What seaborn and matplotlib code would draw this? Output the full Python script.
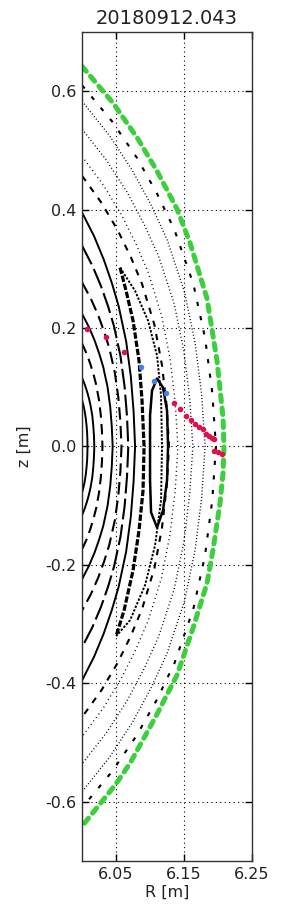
import matplotlib
matplotlib.use("Agg")
import matplotlib.pyplot as plt
import seaborn as sns
import numpy as np
import pandas as pd

# ---------------- data ----------------
title = "20180912.043"

# outer boundary (green), full curve top -> bottom
green_R = [6.000, 6.0456, 6.0824, 6.1103, 6.1397, 6.1588, 6.1838, 6.1985, 6.2074, 6.2088,
           6.2074, 6.2029, 6.1926, 6.1838, 6.1632, 6.1397, 6.1103, 6.0706, 6.0485, 6.0015]
green_z = [0.642, 0.580, 0.519, 0.465, 0.401, 0.344, 0.250, 0.145, 0.049, 0.0,
           -0.045, -0.096, -0.175, -0.231, -0.307, -0.386, -0.452, -0.535, -0.572, -0.639]

# nested surfaces: upper half (left edge -> midplane), lower half mirrored
s1_R = [6.000, 6.0441, 6.0804, 6.1103, 6.1359, 6.1637, 6.1810, 6.1915, 6.197]
s1_z = [0.610, 0.549, 0.488, 0.427, 0.366, 0.2745, 0.183, 0.0915, 0.0]
s2_R = [6.000, 6.0405, 6.0738, 6.1014, 6.1249, 6.1504, 6.1663, 6.1759, 6.181]
s2_z = [0.583, 0.5247, 0.4664, 0.4081, 0.3498, 0.2624, 0.1749, 0.0875, 0.0]
s3_R = [6.000, 6.0365, 6.0665, 6.0913, 6.1125, 6.1355, 6.1498, 6.1584, 6.163]
s3_z = [0.536, 0.4824, 0.4288, 0.3752, 0.3216, 0.2412, 0.1608, 0.0804, 0.0]
s4_R = [6.000, 6.0316, 6.0575, 6.0790, 6.0973, 6.1172, 6.1296, 6.1371, 6.141]
s4_z = [0.490, 0.441, 0.392, 0.343, 0.294, 0.2205, 0.147, 0.0735, 0.0]
s5_R = [6.000, 6.0287, 6.0522, 6.0717, 6.0883, 6.1064, 6.1176, 6.1244, 6.128]
s5_z = [0.457, 0.4113, 0.3656, 0.3199, 0.2742, 0.2057, 0.1371, 0.0686, 0.0]
s6_R = [6.000, 6.0175, 6.0318, 6.0437, 6.0538, 6.0648, 6.0717, 6.0758, 6.078]
s6_z = [0.395, 0.3555, 0.316, 0.2765, 0.237, 0.1778, 0.1185, 0.0593, 0.0]
s7_R = [6.000, 6.0152, 6.0277, 6.0381, 6.0469, 6.0565, 6.0625, 6.0661, 6.068]
s7_z = [0.339, 0.3051, 0.2712, 0.2373, 0.2034, 0.1526, 0.1017, 0.0509, 0.0]
s8_R = [6.000, 6.0130, 6.0237, 6.0325, 6.0400, 6.0482, 6.0533, 6.0564, 6.058]
s8_z = [0.277, 0.2493, 0.2216, 0.1939, 0.1662, 0.1247, 0.0831, 0.0416, 0.0]
s9_R = [6.000, 6.0101, 6.0184, 6.0252, 6.0311, 6.0374, 6.0414, 6.0437, 6.045]
s9_z = [0.224, 0.2016, 0.1792, 0.1568, 0.1344, 0.1008, 0.0672, 0.0336, 0.0]
s10_R = [6.000, 6.0067, 6.0122, 6.0168, 6.0207, 6.0249, 6.0276, 6.0292, 6.030]
s10_z = [0.174, 0.1566, 0.1392, 0.1218, 0.1044, 0.0783, 0.0522, 0.0261, 0.0]
s11_R = [6.000, 6.0040, 6.0073, 6.0101, 6.0124, 6.0150, 6.0165, 6.0175, 6.018]
s11_z = [0.116, 0.1044, 0.0928, 0.0812, 0.0696, 0.0522, 0.0348, 0.0174, 0.0]
s12_R = [6.000, 6.0018, 6.0033, 6.0045, 6.0055, 6.0066, 6.0074, 6.0078, 6.008]
s12_z = [0.078, 0.0702, 0.0624, 0.0546, 0.0468, 0.0351, 0.0234, 0.0117, 0.0]

# island structures (full curves)
cres_in_R = [6.0559, 6.0647, 6.0750, 6.0838, 6.0882, 6.0912, 6.0897, 6.0838, 6.0750, 6.0618, 6.0500]
cres_in_z = [0.302, 0.263, 0.2125, 0.145, 0.0776, 0.0, -0.0742, -0.1417, -0.2091, -0.2766, -0.3204]
cres_out_R = [6.0559, 6.0779, 6.0971, 6.1103, 6.1162, 6.1176, 6.1162, 6.1074, 6.0926, 6.0706, 6.0500]
cres_out_z = [0.302, 0.263, 0.2125, 0.1535, 0.086, 0.0, -0.091, -0.1669, -0.2344, -0.2934, -0.3204]
loop_R = [6.1000, 6.1000, 6.1029, 6.1103, 6.1191, 6.1250, 6.1265, 6.1250, 6.1191, 6.1103,
          6.1015, 6.1000, 6.1000]
loop_z = [0.0, 0.0523, 0.0944, 0.1147, 0.0995, 0.0607, 0.0, -0.0573, -0.1079, -0.1366,
          -0.1113, -0.0573, 0.0]

# red and blue markers
red_R = [6.0074, 6.0353, 6.0618, 6.1353, 6.1441, 6.1529, 6.1603, 6.1662, 6.1721, 6.1779,
         6.1824, 6.1868, 6.1912, 6.1941, 6.1941, 6.2000, 6.2059]
red_z = [0.199, 0.1855, 0.160, 0.0742, 0.0641, 0.0523, 0.0455, 0.0388, 0.0337, 0.0287,
         0.0219, 0.0185, 0.0135, 0.0118, -0.0084, -0.0101, -0.0135]
blue_R = [6.0868, 6.1059, 6.1235]
blue_z = [0.135, 0.111, 0.091]

x_ticks = [6.05, 6.15, 6.25]
y_ticks = [-0.6, -0.4, -0.2, 0.0, 0.2, 0.4, 0.6]

# ---------------- plotting ----------------
sns.set_style("ticks")
plt.rcParams["font.family"] = ["DejaVu Sans"]
plt.rcParams["axes.unicode_minus"] = False

fig = plt.figure(figsize=(2.87, 9.06), dpi=100)
ax = fig.add_axes([0.286, 0.0497, 0.592, 0.915])


def full(Ru, zu):
    R = list(Ru) + list(Ru[::-1][1:])
    z = list(zu) + [-v for v in zu[::-1][1:]]
    return R, z


def draw(R, z, ls, lw, color="k", cap="butt"):
    sns.lineplot(x=R, y=z, sort=False, estimator=None, ax=ax, color=color,
                 linestyle=ls, linewidth=lw, legend=False, dash_capstyle=cap)


surfaces = [
    (s1_R, s1_z, (0, (2.0, 5.0)), 1.5),
    (s2_R, s2_z, (0, (0.7, 1.6)), 1.0),
    (s3_R, s3_z, (0, (0.7, 1.8)), 1.0),
    (s4_R, s4_z, (0, (0.7, 2.4)), 1.0),
    (s5_R, s5_z, (0, (3.0, 3.5)), 1.5),
    (s6_R, s6_z, "-", 1.4),
    (s7_R, s7_z, (0, (10, 2.5)), 1.5),
    (s8_R, s8_z, (0, (6, 3)), 1.5),
    (s9_R, s9_z, "-", 1.4),
    (s10_R, s10_z, (0, (5, 3)), 1.5),
    (s11_R, s11_z, "-", 1.4),
    (s12_R, s12_z, "-", 1.4),
]
for Ru, zu, ls, lw in surfaces:
    R, z = full(Ru, zu)
    draw(R, z, ls, lw)

draw(cres_in_R, cres_in_z, (0, (2, 0.6)), 2.3)
draw(cres_out_R, cres_out_z, (0, (1.2, 0.8)), 1.4)
draw(loop_R, loop_z, "-", 1.8)

draw(green_R, green_z, (0, (1.3, 1.3)), 3.6, color="#3ccf3c", cap="round")

sns.scatterplot(x=red_R, y=red_z, ax=ax, color="#e0104a", s=16, linewidth=0, zorder=5)
sns.scatterplot(x=blue_R, y=blue_z, ax=ax, color="#4a7cf0", s=16, linewidth=0, zorder=5)

ax.set_xlim(6.0, 6.25)
ax.set_ylim(-0.7, 0.7)
ax.set_xticks(x_ticks)
ax.set_xticklabels(["6.05", "6.15", "6.25"])
ax.set_yticks(y_ticks)
ax.set_yticklabels(["-0.6", "-0.4", "-0.2", "0.0", "0.2", "0.4", "0.6"])
ax.tick_params(direction="in", top=True, right=True, length=5, width=1,
               labelsize=11.5, pad=4, colors="k", labelcolor="#222222")
ax.grid(True, color="k", linestyle=(0, (1, 3)), linewidth=0.8)
for sp in ax.spines.values():
    sp.set_color("#333333")
    sp.set_linewidth(1.0)
ax.set_xlabel("R [m]", fontsize=11.5, color="#222222", labelpad=2)
ax.set_ylabel("z [m]", fontsize=11.5, color="#222222", labelpad=10)
ax.set_title(title, fontsize=14, color="#222222", pad=6)

fig.savefig("out.png", dpi=100)
